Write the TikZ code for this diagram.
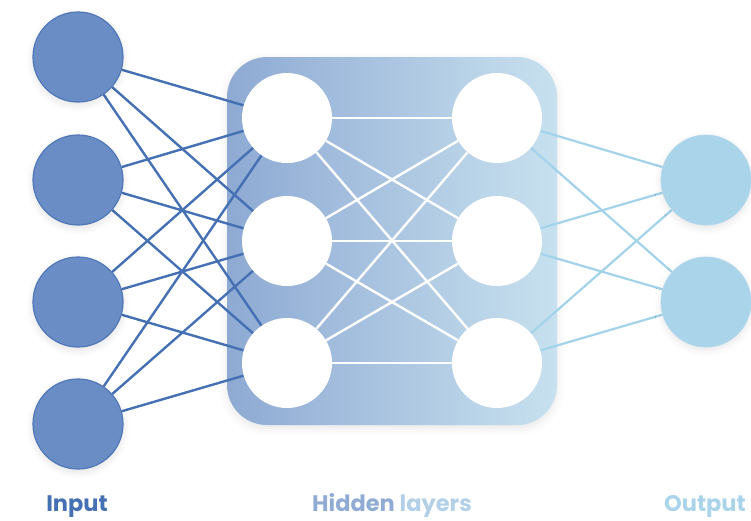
\documentclass[tikz,border=0pt]{standalone}
\usepackage{fontspec}
\setmainfont{Poppins}
\usetikzlibrary{shadows.blur}
\pgfdeclarelayer{back}
\pgfdeclarelayer{links}
\pgfsetlayers{back,links,main}

\definecolor{inFill}{HTML}{6B8DC6}
\definecolor{inEdge}{HTML}{4F78B8}
\definecolor{inLink}{HTML}{4571B4}
\definecolor{boxL}{HTML}{8EAAD3}
\definecolor{boxR}{HTML}{C8E1EF}
\definecolor{outFill}{HTML}{AAD4EA}
\definecolor{outLink}{HTML}{A3D3EA}
\definecolor{hidA}{HTML}{90ACD5}
\definecolor{hidB}{HTML}{B3D0E9}
\definecolor{outText}{HTML}{A9D4EA}

\tikzset{
  neuron/.style={circle, minimum size=90pt, inner sep=0pt},
  innode/.style={neuron, fill=inFill, draw=inEdge, line width=1.2pt,
    blur shadow={shadow xshift=0pt, shadow yshift=-3pt, shadow blur radius=7pt, shadow opacity=12}},
  hidnode/.style={neuron, fill=white},
  outnode/.style={neuron, fill=outFill, draw=outFill!90!white, line width=0.8pt,
    blur shadow={shadow xshift=0pt, shadow yshift=-3pt, shadow blur radius=7pt, shadow opacity=10}},
  inlink/.style={draw=inLink, line width=2.4pt},
  hidlink/.style={draw=white, line width=2.4pt},
  outlink/.style={draw=outLink, line width=2.2pt},
  hidbox/.style={rectangle, rounded corners=40pt, minimum width=330pt, minimum height=368pt,
    left color=boxL, right color=boxR, shading angle=90,
    blur shadow={shadow xshift=0pt, shadow yshift=-3pt, shadow blur radius=8pt, shadow opacity=10}},
  caption/.style={font=\bfseries\fontsize{22.5}{26}\selectfont, anchor=base, inner sep=0pt}
}

\begin{document}
\begin{tikzpicture}[x=1pt, y=-1pt]
\useasboundingbox (0,0) rectangle (751,520);

% input layer
\node[innode] (i1) at (78,57) {};
\node[innode] (i2) at (78,180) {};
\node[innode] (i3) at (78,302) {};
\node[innode] (i4) at (78,424) {};

% hidden layers, left column
\node[hidnode] (a1) at (287,118) {};
\node[hidnode] (a2) at (287,241) {};
\node[hidnode] (a3) at (287,363) {};

% hidden layers, right column
\node[hidnode] (b1) at (497,118) {};
\node[hidnode] (b2) at (497,241) {};
\node[hidnode] (b3) at (497,363) {};

% output layer
\node[outnode] (o1) at (706,180) {};
\node[outnode] (o2) at (706,302) {};

% panel behind the hidden layers
\begin{pgfonlayer}{back}
  \node[hidbox] (box) at (392,241) {};
\end{pgfonlayer}

% connections
\begin{pgfonlayer}{links}
  \foreach \p in {1,...,4}
    \foreach \q in {1,2,3}
      \draw[inlink] (i\p) -- (a\q);
  \foreach \p in {1,2,3}
    \foreach \q in {1,2,3}
      \draw[hidlink] (a\p) -- (b\q);
  \foreach \p in {1,2,3}
    \foreach \q in {1,2}
      \draw[outlink] (b\p) -- (o\q);
\end{pgfonlayer}

% captions
\node[caption, text=inLink] (tin) at (77,511) {Input};
\node[caption] (thid) at (392,511) {\textcolor{hidA}{Hidden} \textcolor{hidB}{layers}};
\node[caption, text=outText] (tout) at (705,511) {Output};
\end{tikzpicture}
\end{document}
